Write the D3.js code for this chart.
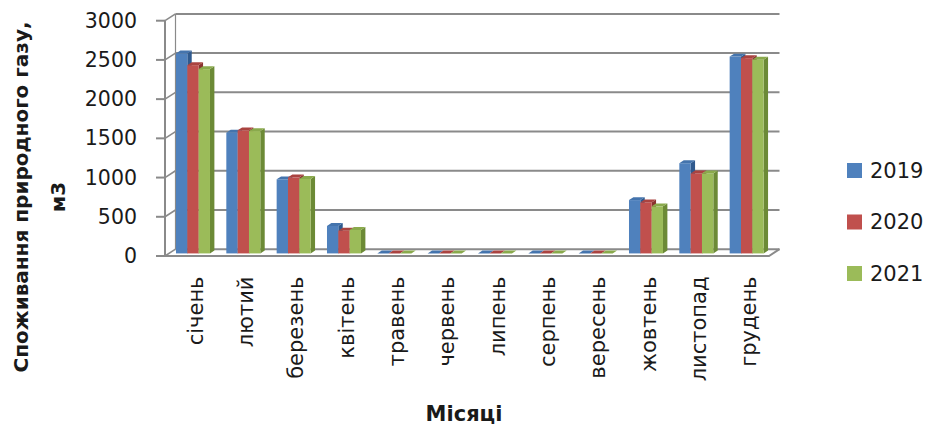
<!DOCTYPE html>
<html>
<head>
<meta charset="utf-8">
<script src="https://cdn.jsdelivr.net/npm/d3@7"></script>
<style>
  html, body { margin: 0; padding: 0; background: #fff; }
  svg { display: block; }
  text { font-family: "DejaVu Sans", sans-serif; fill: #1a1a1a; }
</style>
</head>
<body>
<svg id="chart" width="932" height="426"></svg>
<script>
// ---- data ----
const months = ["січень", "лютий", "березень", "квітень", "травень", "червень",
                "липень", "серпень", "вересень", "жовтень", "листопад", "грудень"];
const seriesNames = ["2019", "2020", "2021"];
const values2019 = [2550, 1540, 945, 350, 0, 0, 0, 0, 0, 680, 1150, 2510];
const values2020 = [2400, 1570, 970, 290, 0, 0, 0, 0, 0, 650, 1020, 2490];
const values2021 = [2350, 1560, 950, 300, 0, 0, 0, 0, 0, 600, 1020, 2470];
const yTicks = [0, 500, 1000, 1500, 2000, 2500, 3000];
const yTitleLines = ["Споживання природного газу,", "м3"];
const xTitle = "Місяці";

const seriesValues = [values2019, values2020, values2021];
const colors = [
  { front: "#4F81BD", side: "#2F5A8E", top: "#4474AD" },
  { front: "#C0504D", side: "#8A3330", top: "#AA4340" },
  { front: "#9BBB59", side: "#6C8A36", top: "#8AAA4C" }
];

// ---- layout ----
const svg = d3.select("#chart");
const X0 = 165, X1 = 769;          // front plane extent
const DX = 10.5, DY = -6.8;        // full depth vector (front -> back wall)
const y = d3.scaleLinear().domain([0, 3000]).range([256, 20.7]);
const x = d3.scaleBand().domain(months).range([X0, X1]);
const barW = 11.33;
const frontT = 0.38, backT = 0.8;  // bar depth fractions
const gridColor = "#8a8a8a";

// back wall gridlines
const g = svg.append("g");
g.selectAll("line.grid").data(yTicks).join("line")
  .attr("x1", X0 + DX).attr("x2", X1 + DX)
  .attr("y1", d => y(d) + DY).attr("y2", d => y(d) + DY)
  .attr("stroke", gridColor).attr("stroke-width", 2);
// left wall diagonals
g.selectAll("line.side").data(yTicks).join("line")
  .attr("x1", X0).attr("x2", X0 + DX)
  .attr("y1", d => y(d)).attr("y2", d => y(d) + DY)
  .attr("stroke", gridColor).attr("stroke-width", 1.6);
// back left edge
g.append("line").attr("x1", X0 + DX).attr("x2", X0 + DX)
  .attr("y1", y(0) + DY).attr("y2", y(3000) + DY)
  .attr("stroke", gridColor).attr("stroke-width", 1.2);
// floor
g.append("path")
  .attr("d", `M${X0},${y(0)} L${X1},${y(0)} L${X1 + DX},${y(0) + DY}`)
  .attr("fill", "none").attr("stroke", gridColor).attr("stroke-width", 2);
// front value axis
g.append("line").attr("x1", X0).attr("x2", X0)
  .attr("y1", y(0)).attr("y2", y(3000))
  .attr("stroke", gridColor).attr("stroke-width", 2);
g.selectAll("line.tick").data(yTicks).join("line")
  .attr("x1", X0 - 9).attr("x2", X0)
  .attr("y1", d => y(d)).attr("y2", d => y(d))
  .attr("stroke", gridColor).attr("stroke-width", 2);
g.selectAll("text.ytick").data(yTicks).join("text")
  .attr("x", 137).attr("y", d => y(d))
  .attr("text-anchor", "end").attr("dominant-baseline", "central")
  .attr("font-size", 20.5).text(d => d);

// bars
const fdx = DX * frontT, fdy = DY * frontT;
const ddx = DX * (backT - frontT), ddy = DY * (backT - frontT);
const bars = svg.append("g");
months.forEach((m, mi) => {
  seriesValues.forEach((vals, si) => {
    const v = vals[mi];
    const xl = x(m) + 7 + fdx + si * barW;
    const xr = xl + barW;
    const yb = y(0) + fdy;
    const yt = y(v) + fdy;
    const c = colors[si];
    // side face
    bars.append("path")
      .attr("d", `M${xr},${yt} L${xr + ddx},${yt + ddy} L${xr + ddx},${yb + ddy} L${xr},${yb} Z`)
      .attr("fill", c.side);
    // front face
    bars.append("rect")
      .attr("x", xl).attr("y", yt).attr("width", barW).attr("height", Math.max(0, yb - yt))
      .attr("fill", c.front);
    // top face
    bars.append("path")
      .attr("d", `M${xl},${yt} L${xr},${yt} L${xr + ddx},${yt + ddy} L${xl + ddx},${yt + ddy} Z`)
      .attr("fill", c.top);
  });
});

// category labels
svg.selectAll("text.xlab").data(months).join("text")
  .attr("transform", d => `translate(${x(d) + x.bandwidth() / 2 + 12.5},276.5) rotate(-90)`)
  .attr("text-anchor", "end")
  .attr("font-size", 21).text(d => d);

// y title
const yt = svg.append("text")
  .attr("transform", "translate(0,197) rotate(-90)")
  .attr("text-anchor", "middle").attr("font-weight", "bold").attr("font-size", 20);
yt.append("tspan").attr("x", 0).attr("y", 28).text(yTitleLines[0]);
yt.append("tspan").attr("x", 0).attr("y", 65).text(yTitleLines[1]);

// x title
svg.append("text").attr("x", 464).attr("y", 421)
  .attr("text-anchor", "middle").attr("font-weight", "bold").attr("font-size", 21)
  .text(xTitle);

// legend
const legY = d3.scalePoint().domain(seriesNames).range([170.5, 273.5]);
const leg = svg.selectAll("g.leg").data(seriesNames).join("g")
  .attr("transform", d => `translate(847,${legY(d)})`);
leg.append("rect").attr("x", 0).attr("y", -7.5).attr("width", 15).attr("height", 15)
  .attr("fill", (d, i) => colors[i].front);
leg.append("text").attr("x", 23).attr("y", 0).attr("dominant-baseline", "central")
  .attr("font-size", 21).text(d => d);
</script>
</body>
</html>
